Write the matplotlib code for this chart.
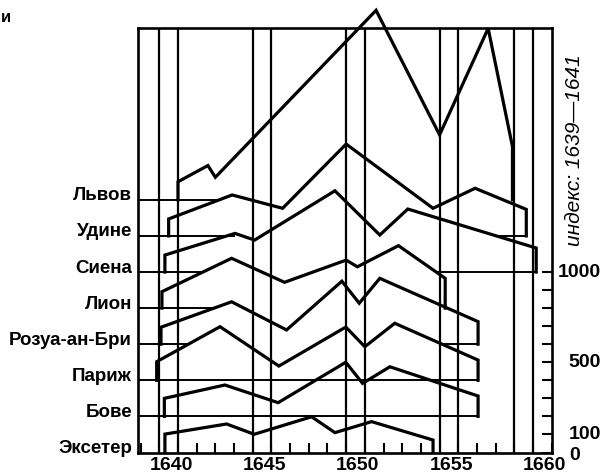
import matplotlib
matplotlib.use('Agg')
import matplotlib.pyplot as plt
from matplotlib.transforms import ScaledTranslation

plt.rcParams['font.family'] = ['Liberation Sans', 'DejaVu Sans']

# City names, top to bottom, and the offset of each city's baseline
cities = ['Львов', 'Удине', 'Сиена', 'Лион', 'Розуа-ан-Бри', 'Париж', 'Бове', 'Эксетер']
baselines = [1400, 1200, 1000, 800, 600, 400, 200, 0]

# Price index (1639-1641 = 100)
lvov_years = [1640.0, 1641.6, 1642.0, 1650.6, 1654.0, 1656.6, 1657.9]
lvov_index = [100, 190, 125, 1050, 360, 950, 295]

udine_years = [1639.5, 1642.9, 1645.6, 1649.0, 1653.65, 1655.9, 1658.64]
udine_index = [94, 227, 153, 509, 153, 264, 147]

siena_years = [1639.3, 1643.05, 1644.1, 1648.4, 1650.8, 1652.3, 1659.17]
siena_index = [94, 214, 177, 450, 205, 349, 133]

lyon_years = [1639.14, 1642.87, 1645.7, 1649.0, 1649.6, 1651.8, 1654.3]
lyon_index = [91, 276, 143, 266, 229, 346, 165]

rozoy_years = [1639.09, 1642.87, 1645.81, 1648.77, 1649.7, 1650.8, 1656.06]
rozoy_index = [94, 235, 79, 349, 227, 365, 125]

paris_years = [1638.86, 1642.25, 1645.4, 1648.98, 1650.0, 1651.6, 1656.06]
paris_index = [103, 297, 79, 295, 186, 316, 112]

beauvais_years = [1639.27, 1642.51, 1645.36, 1648.98, 1649.88, 1651.34, 1656.06]
beauvais_index = [100, 174, 76, 300, 183, 275, 113]

exeter_years = [1639.3, 1642.6, 1644.08, 1647.15, 1648.4, 1650.36, 1653.65]
exeter_index = [102, 158, 101, 198, 110, 171, 69]

# Visible parts of each baseline (years)
X_MIN = 1637.86
lvov_spans = [(X_MIN, 1642.2)]
udine_spans = [(X_MIN, 1643.0), (1657.0, 1658.64)]
siena_spans = [(X_MIN, 1641.3), (1653.9, 1659.17)]
lyon_spans = [(X_MIN, 1641.8)]
rozoy_spans = [(X_MIN, 1640.55), (1654.1, 1656.06)]
paris_spans = [(X_MIN, 1656.06)]
beauvais_spans = [(X_MIN, 1656.06)]
exeter_spans = []

# Year marker lines
marker_years = [1639, 1640, 1644, 1645, 1649, 1650, 1654, 1655, 1658, 1659]

# Axis ticks and labels
x_tick_years = [1640, 1645, 1650, 1655, 1660]
x_minor_years = list(range(1638, 1660))
y_minor_values = list(range(0, 1001, 100))
y_label_values = [0, 100, 500, 1000]

series_years = [lvov_years, udine_years, siena_years, lyon_years,
                rozoy_years, paris_years, beauvais_years, exeter_years]
series_index = [lvov_index, udine_index, siena_index, lyon_index,
                 rozoy_index, paris_index, beauvais_index, exeter_index]
series_spans = [lvov_spans, udine_spans, siena_spans, lyon_spans,
                rozoy_spans, paris_spans, beauvais_spans, exeter_spans]


def draw_city(ax, years, index, base, spans):
    # closed profile: up from the baseline, along the curve, back down
    xs = [years[0]] + years + [years[-1]]
    ys = [base] + [base + v for v in index] + [base]
    ax.plot(xs, ys, color='black', lw=2.3, solid_joinstyle='miter',
            clip_on=False, zorder=3)
    for x0, x1 in spans:
        ax.plot([x0, x1], [base, base], color='black', lw=1.4, zorder=2)


def format_axes(ax, fig):
    AXIS_FONT_SIZE = 14

    ax.set_xlim(X_MIN, 1660)
    ax.set_ylim(0, 2352)

    for spine in ax.spines.values():
        spine.set_linewidth(1.9)

    # x axis: years along the bottom, ticks pointing inwards
    ax.set_xticks(x_tick_years)
    ax.set_xticklabels([str(y) for y in x_tick_years],
                       fontsize=AXIS_FONT_SIZE, fontweight='bold')
    ax.set_xticks(x_minor_years, minor=True)
    ax.tick_params(axis='x', which='both', direction='in', length=7,
                   width=1.5, pad=3, top=False)
    shift = ScaledTranslation(-7 / 100, 0, fig.dpi_scale_trans)
    for label in ax.get_xticklabels():
        label.set_transform(label.get_transform() + shift)

    # y axis: index scale on the right only
    ax.yaxis.tick_right()
    ax.set_yticks(y_minor_values)
    ax.set_yticklabels([])
    ax.tick_params(axis='y', which='both', direction='in', length=7,
                   width=1.5, left=False)
    for v in y_label_values:
        if v == 0:
            ax.annotate(str(v), xy=(1, v), xycoords=('axes fraction', 'data'),
                        xytext=(18, -3), textcoords='offset pixels',
                        ha='left', va='center', fontsize=AXIS_FONT_SIZE,
                        fontweight='bold')
        else:
            ax.annotate(str(v), xy=(1, v), xycoords=('axes fraction', 'data'),
                        xytext=(49, 0), textcoords='offset pixels',
                        ha='right', va='center', fontsize=AXIS_FONT_SIZE,
                        fontweight='bold')


fig = plt.figure(figsize=(6.12, 4.75), dpi=100)
ax = fig.add_axes([138 / 612, 22.5 / 475, 413.7 / 612, 424.5 / 475])

# Curves and their baselines
for years, index, base, spans in zip(series_years, series_index,
                                     baselines, series_spans):
    draw_city(ax, years, index, base, spans)

# Vertical year markers over everything
for yr in marker_years:
    ax.axvline(yr, color='black', lw=1.6, zorder=4)

# City names to the left of the frame
for name, base in zip(cities, baselines):
    ax.annotate(name, xy=(0, base), xycoords=('axes fraction', 'data'),
                xytext=(-6, 4), textcoords='offset pixels',
                ha='right', va='center', fontsize=13.5, fontweight='bold')

format_axes(ax, fig)

# Index label on the right
fig.text(575 / 612, 1 - 150 / 475, 'индекс: 1639—1641', rotation=90,
         ha='center', va='center', fontsize=15, style='italic')

# Letter left over from the page at top left
fig.text(1 / 612, 1 - 17 / 475, 'и', ha='left', va='center',
         fontsize=12, fontweight='bold')

fig.savefig('out.png', dpi=100)
